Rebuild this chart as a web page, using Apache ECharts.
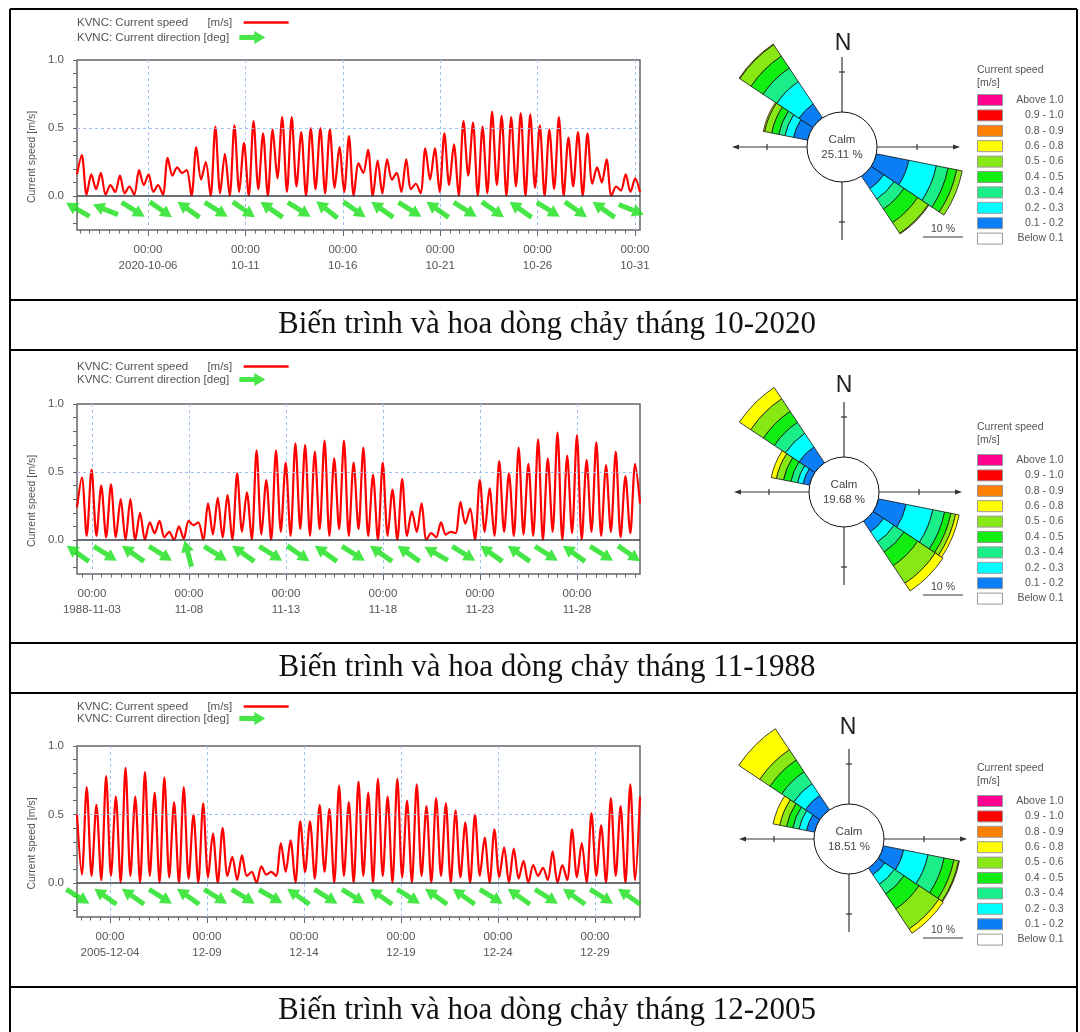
<!DOCTYPE html>
<html><head><meta charset="utf-8">
<script src="https://cdn.jsdelivr.net/npm/echarts@6/dist/echarts.min.js"></script>
<style>html,body{margin:0;padding:0;background:#fff;}#c{width:1080px;height:1032px;}</style>
</head><body><div id="c"></div>
<script>
// ================= DATA =================
const captions = ['Biến trình và hoa dòng chảy tháng 10-2020', 'Biến trình và hoa dòng chảy tháng 11-1988', 'Biến trình và hoa dòng chảy tháng 12-2005'];
const speedName = 'KVNC: Current speed [m/s]';
const dirName = 'KVNC: Current direction [deg]';

// time axis extents
const rangeOct2020 = ['2020-10-02 08:30', '2020-10-31 06:15'];
const rangeNov1988 = ['1988-11-02 05:30', '1988-12-01 06:00'];
const rangeDec2005 = ['2005-12-02 07:10', '2005-12-31 07:40'];

// labelled ticks
const ticksOct2020 = ['2020-10-06', '2020-10-11', '2020-10-16', '2020-10-21', '2020-10-26', '2020-10-31'];
const labelsOct2020 = ['2020-10-06', '10-11', '10-16', '10-21', '10-26', '10-31'];
const ticksNov1988 = ['1988-11-03', '1988-11-08', '1988-11-13', '1988-11-18', '1988-11-23', '1988-11-28'];
const labelsNov1988 = ['1988-11-03', '11-08', '11-13', '11-18', '11-23', '11-28'];
const ticksDec2005 = ['2005-12-04', '2005-12-09', '2005-12-14', '2005-12-19', '2005-12-24', '2005-12-29'];
const labelsDec2005 = ['2005-12-04', '12-09', '12-14', '12-19', '12-24', '12-29'];
const yTicks = [-0.2, -0.1, 0, 0.1, 0.2, 0.3, 0.4, 0.5, 0.6, 0.7, 0.8, 0.9, 1.0];
const yLabels = [0, 0.5, 1.0];

const speedOct2020 = [
0.16, 0.30, 0.01, 0.16, 0.05, 0.17, 0.01, 0.08, 0.03, 0.15, 0.02, 0.07, 0.01, 0.19, 0.08, 0.16, 0.03, 0.08, 0.01, 0.28,
0.15, 0.21, 0.17, 0.19, 0.00, 0.36, 0.12, 0.25, 0.00, 0.51, 0.02, 0.31, 0.00, 0.52, 0.03, 0.39, 0.00, 0.55, 0.05, 0.46,
0.00, 0.49, 0.13, 0.58, 0.03, 0.58, 0.07, 0.47, 0.00, 0.50, 0.05, 0.50, 0.02, 0.49, 0.06, 0.36, 0.03, 0.44, 0.00, 0.24,
0.17, 0.34, 0.00, 0.26, 0.02, 0.27, 0.12, 0.17, 0.03, 0.27, 0.05, 0.09, 0.02, 0.35, 0.12, 0.35, 0.03, 0.46, 0.08, 0.38,
0.00, 0.55, 0.15, 0.54, 0.00, 0.51, 0.02, 0.62, 0.08, 0.59, 0.00, 0.58, 0.07, 0.61, 0.00, 0.60, 0.06, 0.52, 0.00, 0.49,
0.05, 0.58, 0.00, 0.43, 0.07, 0.47, 0.00, 0.46, 0.09, 0.21, 0.10, 0.27, 0.00, 0.07, 0.04, 0.16, 0.03, 0.13, 0.03];
const speedNov1988 = [
0.24, 0.46, 0.03, 0.52, 0.03, 0.40, 0.02, 0.41, 0.02, 0.30, 0.00, 0.30, 0.00, 0.20, 0.00, 0.13, 0.05, 0.14, 0.02, 0.06,
0.00, 0.10, 0.01, 0.14, 0.11, 0.13, 0.00, 0.27, 0.04, 0.31, 0.02, 0.33, 0.00, 0.49, 0.06, 0.35, 0.00, 0.66, 0.04, 0.44,
0.00, 0.66, 0.06, 0.57, 0.03, 0.71, 0.08, 0.70, 0.03, 0.65, 0.08, 0.73, 0.03, 0.60, 0.08, 0.73, 0.03, 0.57, 0.08, 0.68,
0.03, 0.48, 0.00, 0.57, 0.03, 0.37, 0.00, 0.45, 0.03, 0.21, 0.06, 0.27, 0.00, 0.05, 0.02, 0.13, 0.04, 0.06, 0.05, 0.28,
0.12, 0.23, 0.00, 0.44, 0.06, 0.38, 0.03, 0.58, 0.06, 0.49, 0.03, 0.68, 0.04, 0.56, 0.03, 0.74, 0.00, 0.60, 0.06, 0.79,
0.00, 0.62, 0.05, 0.77, 0.00, 0.59, 0.06, 0.72, 0.03, 0.55, 0.06, 0.65, 0.02, 0.47, 0.05, 0.56, 0.27];
const speedDec2005 = [
0.50, 0.06, 0.70, 0.05, 0.57, 0.02, 0.78, 0.05, 0.63, 0.00, 0.84, 0.05, 0.63, 0.00, 0.81, 0.05, 0.66, 0.00, 0.77, 0.04,
0.59, 0.00, 0.70, 0.03, 0.50, 0.00, 0.58, 0.04, 0.36, 0.00, 0.40, 0.05, 0.19, 0.02, 0.20, 0.05, 0.08, 0.00, 0.12, 0.06,
0.08, 0.05, 0.29, 0.08, 0.31, 0.00, 0.45, 0.08, 0.45, 0.03, 0.57, 0.08, 0.54, 0.00, 0.71, 0.05, 0.59, 0.00, 0.74, 0.05,
0.66, 0.00, 0.76, 0.05, 0.63, 0.00, 0.76, 0.04, 0.60, 0.00, 0.72, 0.05, 0.56, 0.00, 0.62, 0.05, 0.58, 0.00, 0.53, 0.04,
0.44, 0.00, 0.50, 0.05, 0.33, 0.00, 0.39, 0.04, 0.26, 0.00, 0.25, 0.03, 0.16, 0.00, 0.13, 0.05, 0.11, 0.02, 0.23, 0.00,
0.13, 0.02, 0.39, 0.04, 0.29, 0.00, 0.51, 0.05, 0.42, 0.00, 0.62, 0.05, 0.56, 0.00, 0.72, 0.02, 0.63];

// current direction [deg, compass], one vector every 34 h
const dirOct2020 = [300, 292, 122, 125, 305, 122, 125, 305, 122, 308, 125, 305, 122, 305, 122, 125, 305, 122, 125, 305, 112];
const dirNov1988 = [305, 122, 305, 122, 345, 122, 305, 122, 125, 305, 122, 305, 305, 300, 122, 305, 305, 122, 305, 122, 125];
const dirDec2005 = [122, 305, 305, 122, 305, 122, 122, 120, 305, 122, 122, 305, 122, 305, 305, 122, 305, 122, 305, 122, 305];

// current rose
const directions16 = ['N', 'NNE', 'NE', 'ENE', 'E', 'ESE', 'SE', 'SSE', 'S', 'SSW', 'SW', 'WSW', 'W', 'WNW', 'NW', 'NNW'];
const speedClasses = ['0.1 - 0.2', '0.2 - 0.3', '0.3 - 0.4', '0.4 - 0.5', '0.5 - 0.6', '0.6 - 0.8', '0.8 - 0.9', '0.9 - 1.0', 'Above 1.0'];
const classColors = ['#0a7ff5', '#00ffff', '#1aee88', '#11ee11', '#88e814', '#ffff00', '#ff8000', '#ff0000', '#ff0090'];
const legendOrder = ['Above 1.0', '0.9 - 1.0', '0.8 - 0.9', '0.6 - 0.8', '0.5 - 0.6', '0.4 - 0.5', '0.3 - 0.4', '0.2 - 0.3', '0.1 - 0.2', 'Below 0.1'];
const calmPct = [25.11, 19.68, 18.51];
// frequency [%] per speed class (0.1-0.2 ... 0.6-0.8) for each petal
const roseOct2020_ESE = [8.3, 7.0, 3.0, 2.2, 1.4, 0];
const roseOct2020_SE  = [3.8, 3.1, 3.0, 4.1, 3.2, 0.2];
const roseOct2020_WNW = [3.6, 2.2, 1.6, 1.8, 1.8, 0.3];
const roseOct2020_NW  = [4.2, 6.7, 4.1, 3.6, 3.4, 0.2];
const roseNov1988_ESE = [7.1, 6.8, 3.0, 1.6, 1.2, 0.9];
const roseNov1988_SE  = [3.2, 3.1, 3.0, 4.1, 5.3, 2.3];
const roseNov1988_WNW = [1.7, 1.4, 1.7, 1.9, 1.8, 1.3];
const roseNov1988_NW  = [4.8, 4.1, 3.3, 3.3, 3.8, 3.4];
const roseDec2005_ESE = [5.2, 6.2, 4.1, 2.5, 1.2, 0.2];
const roseDec2005_SE  = [2.0, 2.9, 2.9, 4.5, 6.0, 1.3];
const roseDec2005_WNW = [2.1, 1.9, 1.6, 1.6, 1.7, 1.7];
const roseDec2005_NW  = [4.4, 3.5, 3.6, 3.5, 3.1, 6.3];

// ================= BUILD =================
const HOUR = 3600000;
function ts(s) {
  const m = s.match(/(\d+)-(\d+)-(\d+)(?: (\d+):(\d+))?/);
  return new Date(+m[1], +m[2] - 1, +m[3], +(m[4] || 0), +(m[5] || 0)).getTime();
}
const arrowPath = 'path://M0,4L15,4L15,0L26,6.5L15,13L15,9L0,9Z';
const FONT = 'Liberation Sans, Arial, sans-serif';
const GREEN = '#18e018';

const panels = [
  {speed: speedOct2020, dirs: dirOct2020, range: rangeOct2020, ticks: ticksOct2020, labels: labelsOct2020,
   petals: {ESE: roseOct2020_ESE, SE: roseOct2020_SE, WNW: roseOct2020_WNW, NW: roseOct2020_NW},
   L: {gridTop: 60, gridH: 170, leg: [22, 37], cx: 842, cy: 147, nY: 44, nX: 843, titleY: 70, boxTop: 95, scaleTextY: 229, scaleLineY: 237}},
  {speed: speedNov1988, dirs: dirNov1988, range: rangeNov1988, ticks: ticksNov1988, labels: labelsNov1988,
   petals: {ESE: roseNov1988_ESE, SE: roseNov1988_SE, WNW: roseNov1988_WNW, NW: roseNov1988_NW},
   L: {gridTop: 404, gridH: 170, leg: [366, 379], cx: 844, cy: 492, nY: 386, nX: 844, titleY: 427, boxTop: 455, scaleTextY: 587, scaleLineY: 595}},
  {speed: speedDec2005, dirs: dirDec2005, range: rangeDec2005, ticks: ticksDec2005, labels: labelsDec2005,
   petals: {ESE: roseDec2005_ESE, SE: roseDec2005_SE, WNW: roseDec2005_WNW, NW: roseDec2005_NW},
   L: {gridTop: 746, gridH: 171, leg: [706, 718], cx: 849, cy: 839, nY: 728, nX: 848, titleY: 768, boxTop: 796, scaleTextY: 930, scaleLineY: 938}}
];

const option = {
  animation: false,
  backgroundColor: '#fff',
  textStyle: {fontFamily: FONT},
  grid: [], xAxis: [], yAxis: [], polar: [], angleAxis: [], radiusAxis: [], series: [], legend: [], graphic: []
};
const G = option.graphic;

panels.forEach((p, i) => {
  const L = p.L;
  const tMin = ts(p.range[0]), tMax = ts(p.range[1]);
  const tickTimes = p.ticks.map(ts);
  const minor = [];
  for (let t = ts(p.range[0].slice(0, 10)); t <= tMax; t += 12 * HOUR) if (t >= tMin) minor.push(t);

  option.grid.push({left: 77, top: L.gridTop, width: 563, height: L.gridH, show: true, borderColor: '#666', borderWidth: 1.5});
  option.xAxis.push({
    type: 'value', gridIndex: i, min: tMin, max: tMax, position: 'bottom', scale: true,
    axisLine: {show: false, onZero: false},
    axisTick: {show: true, customValues: tickTimes, length: 6, lineStyle: {color: '#666'}},
    axisLabel: {customValues: tickTimes, color: '#555', fontSize: 11.5, lineHeight: 16, margin: 12, hideOverlap: false,
      formatter: v => { const k = tickTimes.findIndex(t => Math.abs(t - v) < 60000); return '00:00\n' + (k >= 0 ? p.labels[k] : ''); }},
    splitLine: {show: true, lineStyle: {color: '#9fc3ee', type: [3, 3], width: 1}}
  });
  option.xAxis.push({
    type: 'value', gridIndex: i, min: tMin, max: tMax, position: 'bottom', scale: true,
    axisLine: {show: false, onZero: false},
    axisTick: {show: true, customValues: minor, length: 3.5, lineStyle: {color: '#666'}},
    axisLabel: {show: false}, splitLine: {show: false}
  });
  option.yAxis.push({
    type: 'value', gridIndex: i, min: -0.25, max: 1.0,
    axisLine: {show: false, onZero: false},
    axisTick: {show: true, customValues: yTicks, length: 4, lineStyle: {color: '#666'}},
    axisLabel: {customValues: yLabels, formatter: v => v.toFixed(1), color: '#555', fontSize: 11.5, margin: 13},
    splitLine: {show: false},
    name: 'Current speed [m/s]', nameLocation: 'middle', nameGap: 37,
    nameTextStyle: {fontSize: 10.5, color: '#555', padding: [0, 24, 0, 0]}
  });

  const n = p.speed.length;
  option.series.push({
    type: 'line', name: speedName, xAxisIndex: 2 * i, yAxisIndex: i,
    data: p.speed.map((v, k) => [tMin + k * (tMax - tMin) / (n - 1), v]),
    smooth: 0.3, symbol: 'none', showSymbol: false, lineStyle: {color: '#ff0000', width: 2.2}, itemStyle: {color: '#ff0000'}, z: 3,
    markLine: {silent: true, symbol: 'none', label: {show: false}, animation: false,
      data: [{yAxis: 0, lineStyle: {color: '#3a3f4a', width: 1.5, type: 'solid'}},
             {yAxis: 0.5, lineStyle: {color: '#9fc3ee', width: 1, type: [3, 3]}}]}
  });
  option.series.push({
    type: 'scatter', name: dirName, xAxisIndex: 2 * i, yAxisIndex: i,
    symbol: arrowPath, symbolSize: [27, 13], itemStyle: {color: GREEN}, z: 4,
    data: p.dirs.map((d, k) => ({value: [tMin + HOUR + k * 34.1 * HOUR, -0.1, d], symbolRotate: 90 - d}))
  });

  option.legend.push({
    left: 77, top: L.leg[0] - 5.5, padding: 0, align: 'right', selectedMode: false, itemWidth: 45, itemHeight: 2.5,
    data: [{name: speedName, icon: 'rect'}],
    formatter: () => 'KVNC: Current speed      [m/s]  ',
    textStyle: {color: '#555', fontSize: 11.5}
  });
  option.legend.push({
    left: 77, top: L.leg[1] - 6, padding: 0, align: 'right', selectedMode: false, itemWidth: 30, itemHeight: 13,
    data: [{name: dirName, icon: arrowPath}],
    formatter: () => 'KVNC: Current direction [deg] ',
    textStyle: {color: '#555', fontSize: 11.5}
  });

  // ---- rose ----
  option.polar.push({center: [L.cx, L.cy], radius: [35, 135]});
  option.angleAxis.push({polarIndex: i, type: 'category', data: directions16, startAngle: 101.25, clockwise: true,
    axisLine: {show: false}, axisTick: {show: false}, axisLabel: {show: false}, splitLine: {show: false}});
  option.radiusAxis.push({polarIndex: i, type: 'value', min: 0, max: 25,
    axisLine: {show: false}, axisTick: {show: false}, axisLabel: {show: false}, splitLine: {show: false}});
  speedClasses.forEach((cls, c) => {
    const data = directions16.map(d => {
      const arr = p.petals[d];
      const v = arr && c < arr.length ? arr[c] : 0;
      return v > 0 ? v : null;
    });
    option.series.push({type: 'bar', coordinateSystem: 'polar', polarIndex: i, stack: 'rose' + i, name: cls,
      data, barCategoryGap: '0%', itemStyle: {color: classColors[c], borderColor: '#111', borderWidth: 0.8}, silent: true});
  });
  option.legend.push({
    orient: 'vertical', left: 977, top: L.boxTop - 1, padding: 0, itemWidth: 25, itemHeight: 11, itemGap: 3.4, icon: 'rect',
    selectedMode: false, data: legendOrder,
    itemStyle: {borderColor: '#999', borderWidth: 1},
    formatter: name => '{r|' + name + '}',
    textStyle: {rich: {r: {width: 56, align: 'right', fontSize: 10.5, color: '#555'}}}
  });

  // rose decorations
  const cx = L.cx, cy = L.cy, ln = {stroke: '#333', lineWidth: 1.2};
  G.push({type: 'line', z: 1, shape: {x1: cx, y1: cy - 90, x2: cx, y2: cy + 93}, style: ln});
  G.push({type: 'line', z: 1, shape: {x1: cx - 108, y1: cy, x2: cx + 116, y2: cy}, style: ln});
  [[cx - 75, cy, 0], [cx + 75, cy, 0], [cx, cy - 75, 1], [cx, cy + 75, 1]].forEach(([x, y, v]) =>
    G.push({type: 'line', z: 1, shape: v ? {x1: x - 3, y1: y, x2: x + 3, y2: y} : {x1: x, y1: y - 3, x2: x, y2: y + 3}, style: ln}));
  G.push({type: 'polygon', z: 1, shape: {points: [[cx - 110, cy], [cx - 103, cy - 2.5], [cx - 103, cy + 2.5]]}, style: {fill: '#333'}});
  G.push({type: 'polygon', z: 1, shape: {points: [[cx + 118, cy], [cx + 111, cy - 2.5], [cx + 111, cy + 2.5]]}, style: {fill: '#333'}});
  G.push({type: 'text', z: 1, x: L.nX, y: L.nY, style: {text: 'N', font: '23px ' + FONT, fill: '#222', align: 'center', verticalAlign: 'middle'}});
  G.push({type: 'circle', z: 20, shape: {cx, cy, r: 35}, style: {fill: '#fff', stroke: '#111', lineWidth: 1}});
  G.push({type: 'text', z: 21, x: cx, y: cy, style: {text: 'Calm\n' + calmPct[i].toFixed(2) + ' %', font: '11.5px ' + FONT, fill: '#444', align: 'center', verticalAlign: 'middle', lineHeight: 15}});
  G.push({type: 'text', z: 1, x: 943, y: L.scaleTextY, style: {text: '10 %', font: '10.5px ' + FONT, fill: '#444', align: 'center', verticalAlign: 'middle'}});
  G.push({type: 'line', z: 1, shape: {x1: 923, y1: L.scaleLineY, x2: 963, y2: L.scaleLineY}, style: {stroke: '#333', lineWidth: 1.2}});
  G.push({type: 'text', z: 1, x: 977, y: L.titleY, style: {text: 'Current speed', font: '10.5px ' + FONT, fill: '#555', verticalAlign: 'middle'}});
  G.push({type: 'text', z: 1, x: 977, y: L.titleY + 13, style: {text: '[m/s]', font: '10.5px ' + FONT, fill: '#555', verticalAlign: 'middle'}});
});

// legend swatch for the calm class
option.series.push({type: 'bar', coordinateSystem: 'polar', polarIndex: 0, stack: 'rose0', name: 'Below 0.1', data: [], itemStyle: {color: '#fff'}});

// ---- table frame and captions ----
const frame = {stroke: '#000', lineWidth: 2};
G.push({type: 'line', z: 30, shape: {x1: 10, y1: 9, x2: 1077, y2: 9}, style: frame});
G.push({type: 'line', z: 30, shape: {x1: 10, y1: 9, x2: 10, y2: 1032}, style: frame});
G.push({type: 'line', z: 30, shape: {x1: 1077, y1: 9, x2: 1077, y2: 1032}, style: frame});
[300, 350, 643, 693, 987].forEach(y => G.push({type: 'line', z: 30, shape: {x1: 10, y1: y, x2: 1077, y2: y}, style: frame}));
[325, 668, 1011].forEach((y, k) => G.push({type: 'text', z: 30, x: 547, y, style: {text: captions[k], font: '31px "Liberation Serif", "Times New Roman", serif', fill: '#111', align: 'center', verticalAlign: 'middle'}}));

const chart = echarts.init(document.getElementById('c'));
chart.setOption(option);
</script></body></html>
